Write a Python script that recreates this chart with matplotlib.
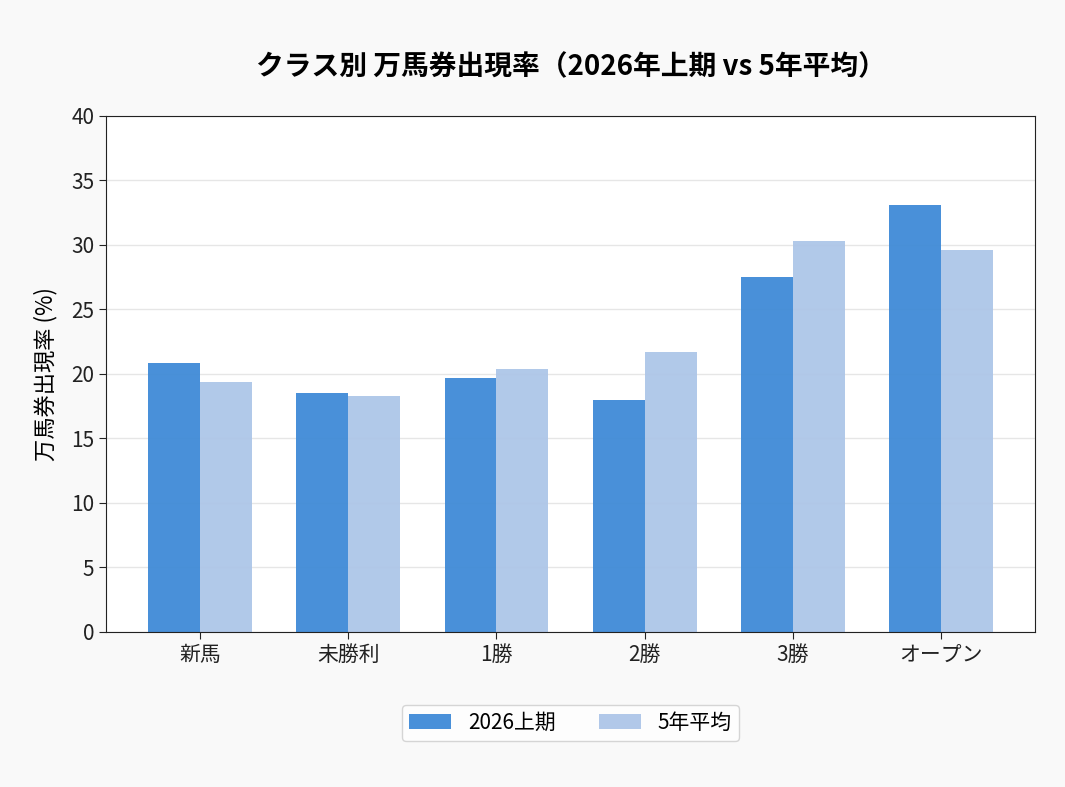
import matplotlib.pyplot as plt
import numpy as np

plt.rcParams['font.family'] = ['Noto Sans CJK JP', 'DejaVu Sans']

classes = ['新馬', '未勝利', '1勝', '2勝', '3勝', 'オープン']
rate_2026 = [20.8, 18.5, 19.7, 18.0, 27.5, 33.1]
rate_5yr = [19.4, 18.3, 20.4, 21.7, 30.3, 29.6]

x = np.arange(len(classes))
width = 0.35

fig, ax = plt.subplots(figsize=(10.65, 7.87), dpi=100)
fig.patch.set_facecolor('#f9f9f9')
ax.set_facecolor('white')

ax.bar(x - width / 2, rate_2026, width, label='2026上期', color='#3f8ad7', alpha=0.95, zorder=2)
ax.bar(x + width / 2, rate_5yr, width, label='5年平均', color='#adc6e8', alpha=0.95, zorder=2)

ax.set_ylim(0, 40)
ax.set_yticks(range(0, 41, 5))
ax.set_xticks(x)
ax.set_xticklabels(classes)
ax.tick_params(labelsize=15, colors='#222222', length=5)
ax.set_ylabel('万馬券出現率 (%)', fontsize=16, labelpad=10)
ax.set_title('クラス別 万馬券出現率（2026年上期 vs 5年平均）', fontsize=20, fontweight='bold', pad=29)
ax.yaxis.grid(True, color='#e6e6e6', linewidth=1, zorder=0)
ax.set_axisbelow(True)

for spine in ax.spines.values():
    spine.set_color('#222222')

ax.legend(loc='center', bbox_to_anchor=(0.5, -0.176), ncol=2, fontsize=15,
          frameon=True, edgecolor='#cccccc', columnspacing=2.1, handlelength=2.0,
          borderpad=0.35)

fig.subplots_adjust(left=0.0995, right=0.972, top=0.853, bottom=0.197)
plt.savefig('out.png', dpi=100, facecolor=fig.get_facecolor())
plt.close()
